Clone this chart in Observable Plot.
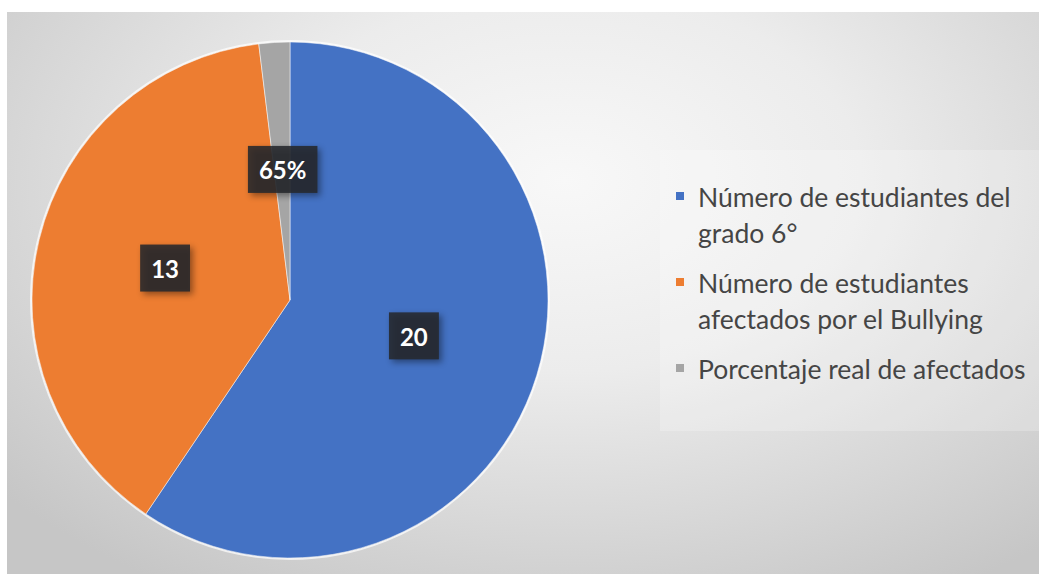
<!DOCTYPE html>
<html><head><meta charset="utf-8">
<script src="https://cdn.jsdelivr.net/npm/d3@7"></script>
<script src="https://cdn.jsdelivr.net/npm/@observablehq/plot@0.6"></script>
<style>
body{margin:0;background:#fff;}
#wrap{position:relative;width:1039px;height:574px;overflow:hidden;background:#fff;}
#bg{position:absolute;left:7px;top:12px;right:0;bottom:0;background:radial-gradient(ellipse 72% 85% at 54% 30%, #f8f8f8 0%, #ececec 40%, #d6d6d6 75%, #c6c6c6 100%);}
#chart{position:absolute;left:0;top:0;}
#legend{position:absolute;left:660px;top:150px;width:379px;height:281px;background:rgba(255,255,255,0.22);font-family:Lato,sans-serif;font-size:26.5px;color:#454545;}
.item{position:absolute;left:38px;line-height:36px;white-space:nowrap;}
.sw{position:absolute;left:16px;width:8px;height:8px;}
</style></head>
<body>
<div id="wrap"><div id="bg"></div><div id="chart"></div><div id="legend"></div></div>
<script>
const categories = ["Número de estudiantes del grado 6°", "Número de estudiantes afectados por el Bullying", "Porcentaje real de afectados"];
const legendLines = [["Número de estudiantes del", "grado 6°"], ["Número de estudiantes", "afectados por el Bullying"], ["Porcentaje real de afectados"]];
const values = [20, 13, 0.65];
const labels = ["20", "13", "65%"];
const colors = ["#4472C4", "#ED7D31", "#A5A5A5"];

const data = categories.map((c, i) => ({category: c, value: values[i], label: labels[i], color: colors[i]}));
const arcs = d3.pie().sort(null).value(d => d.value)(data);
const labelData = arcs.map(a => {
  const mid = (a.startAngle + a.endAngle) / 2;
  return {label: a.data.label, x: 0.5 * Math.sin(mid), y: 0.5 * Math.cos(mid)};
});

function pieMark(index, scales) {
  const cx = scales.x(0), cy = scales.y(0);
  const r = Math.abs(scales.x(1) - scales.x(0));
  const arc = d3.arc().innerRadius(0).outerRadius(r);
  const g = d3.create("svg:g").attr("transform", `translate(${cx},${cy})`);
  g.append("circle").attr("r", r + 1).attr("fill", "none").attr("stroke", "#ffffff").attr("stroke-opacity", 0.7).attr("stroke-width", 2);
  g.selectAll("path").data(arcs).join("path")
    .attr("d", arc)
    .attr("fill", d => d.data.color)
    .attr("stroke", "#ffffff").attr("stroke-opacity", 0.5).attr("stroke-width", 1);
  return g.node();
}

const plot = Plot.plot({
  width: 1039, height: 574,
  margin: 0,
  x: {domain: [-1, 1], range: [32, 548], axis: null},
  y: {domain: [-1, 1], range: [558, 42], axis: null},
  style: {background: "transparent", overflow: "visible"},
  marks: [
    pieMark,
    Plot.text(labelData, {x: "x", y: "y", text: "label", fill: "white", fontWeight: "bold", fontSize: 24, fontFamily: "Lato"})
  ]
});
document.getElementById("chart").appendChild(plot);

// label boxes behind the text
d3.select(plot).selectAll('g[aria-label="text"] text').each(function() {
  const t = this;
  const b = t.getBBox();
  const padX = 11;
  const r = document.createElementNS("http://www.w3.org/2000/svg", "rect");
  t.parentNode.insertBefore(r, t);
  d3.select(r)
    .attr("x", b.x - padX).attr("y", b.y + b.height / 2 - 24)
    .attr("width", b.width + 2 * padX).attr("height", 47)
    .attr("transform", t.getAttribute("transform"))
    .attr("fill", "rgba(38,40,44,0.88)")
    .style("filter", "drop-shadow(3px 3px 3px rgba(0,0,0,0.45))");
});

// legend
const leg = d3.select("#legend");
let yPos = 29;
legendLines.forEach((lines, i) => {
  leg.append("div").attr("class", "sw").style("top", (yPos + 18 - 5) + "px").style("background", colors[i]);
  lines.forEach((t, j) => {
    leg.append("div").attr("class", "item").style("top", (yPos + j * 36) + "px").text(t);
  });
  yPos += lines.length * 36 + 14;
});
</script>
</body></html>
